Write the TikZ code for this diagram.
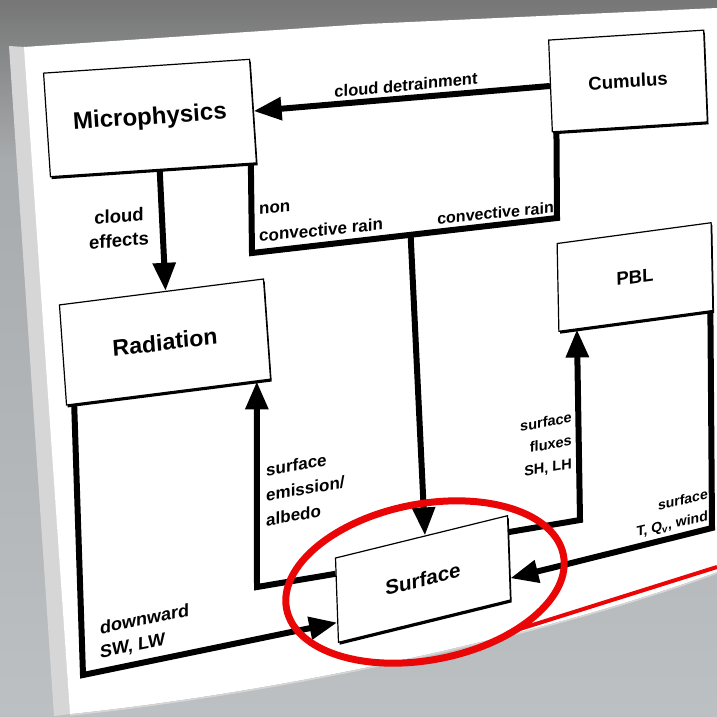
\documentclass[tikz,border=0pt]{standalone}
\usepackage{fontspec}
\setmainfont{Liberation Sans}
\usetikzlibrary{arrows.meta,calc,shapes.geometric,shadows}
\definecolor{bgtop}{RGB}{118,118,118}
\definecolor{bgmid}{RGB}{168,171,173}
\definecolor{bgbot}{RGB}{188,192,194}
\definecolor{sheetside}{RGB}{214,214,214}
\definecolor{lassored}{RGB}{234,6,6}
\begin{document}
\begin{tikzpicture}[x=1pt, y=-1pt,
    box/.style={draw, line width=1.2pt, fill=white, font=\bfseries\fontsize{#1}{#1}\selectfont,
        drop shadow={shadow xshift=1.2pt, shadow yshift=-2.4pt, opacity=1, fill=black}},
    flow/.style={line width=6pt, -{Triangle[length=28pt,width=22pt]}},
    wire/.style={line width=6pt},
    lbl/.style 2 args={font=\bfseries\fontsize{#1}{#2}\selectfont, inner sep=0pt},
    lasso/.style={draw=lassored, ellipse, line width=7pt}
]
\useasboundingbox (0,0) rectangle (717,716);
\fill[bgbot] (0,0) rectangle (717,716);
\shade[top color=bgtop, bottom color=bgmid] (0,0) rectangle (717,160);
\shade[top color=bgmid, bottom color=bgbot] (0,160) rectangle (717,716);
\fill[sheetside] (9,46) -- (25,47) -- (70,714) -- (54,716) -- cycle;
\fill[white] (24,47) -- (366,24) -- (717,8) -- (717,572) .. controls (560,630) and (300,690) .. (70,714) -- cycle;
\draw[sheetside, line width=1.5pt] (717,573) .. controls (560,631) and (300,691) .. (70,715);

\node[box=24, minimum width=206pt, minimum height=104pt, yslant=0.067, xslant=-0.066] (micro) at (150,118) {Microphysics};
\node[box=18.5, minimum width=155pt, minimum height=92pt, yslant=0.064, xslant=-0.04] (cum) at (628,81) {Cumulus};
\node[box=23, minimum width=204pt, minimum height=101pt, yslant=0.127, xslant=-0.07] (rad) at (165,342) {Radiation};
\node[box=18.5, minimum width=154pt, minimum height=88pt, yslant=0.135, xslant=-0.02] (pbl) at (635,277) {PBL};
\node[box=20.5, minimum width=172pt, minimum height=85pt, yslant=0.246, xslant=-0.035] (surf) at (423,579) {Surface};

\coordinate (ncr) at (252,253);
\coordinate (cvr) at (557,218);
\coordinate (emc) at (257,587);
\coordinate (dwc) at (83,675);
\coordinate (flc) at (580,520);
\coordinate (tqc) at (712,528);

\draw[flow] (cum.west) -- (micro.east);
\draw[flow] ($(micro.south west)!0.53!(micro.south east)$) -- ($(rad.north west)!0.52!(rad.north east)$);
\draw[wire] ($(micro.south west)!0.97!(micro.south east)$) -- (ncr) -- (cvr) -- ($(cum.south west)!0.03!(cum.south east)$);
\draw[flow] ($(ncr)!0.52!(cvr)$) -- ($(surf.north west)!0.52!(surf.north east)$);
\draw[flow] ($(surf.north west)!0.19!(surf.south west)$) -- (emc) -- ($(rad.south west)!0.93!(rad.south east)$);
\draw[flow] ($(rad.south west)!0.04!(rad.south east)$) -- (dwc) -- ($(surf.north west)!0.76!(surf.south west)$);
\draw[flow] ($(surf.north east)!0.2!(surf.south east)$) -- (flc) -- ($(pbl.south west)!0.12!(pbl.south east)$);
\draw[flow] ($(pbl.south west)!0.98!(pbl.south east)$) -- (tqc) -- ($(surf.north east)!0.74!(surf.south east)$);

\node[lbl={16.5}{20}, yslant=0.093] (detr) at (406,85) {cloud detrainment};
\node[lbl={18.5}{24.5}, align=center, yslant=0.086] (ceff) at (119,228) {cloud\\effects};
\node[lbl={17}{27}, align=left, anchor=west, yslant=0.1] (ncrain) at (259,224) {non\\convective rain};
\node[lbl={16}{20}, anchor=east, yslant=0.1] (cvrain) at (554,207) {convective rain};
\node[lbl={17}{25}, align=left, anchor=west, yslant=0.17] (emis) at (266,495) {surface\\emission/\\albedo};
\node[lbl={14.5}{23}, align=right, anchor=east, yslant=0.18] (flux) at (572,441) {surface\\fluxes\\SH, LH};
\node[lbl={14}{21.5}, align=right, anchor=east, yslant=0.23] (tqv) at (708,506) {surface\\T, Q\textsubscript{v}, wind};
\node[lbl={18}{24}, align=left, anchor=west, yslant=0.2] (down) at (100,641) {downward\\SW, LW};

\node[lasso, minimum width=282pt, minimum height=156pt, rotate=11] (ring) at (425,582) {};
\coordinate (lassoA) at (507,633);
\coordinate (lassoB) at (717,567);
\draw[lassored, line width=4pt] (lassoA) -- (lassoB);
\end{tikzpicture}
\end{document}
